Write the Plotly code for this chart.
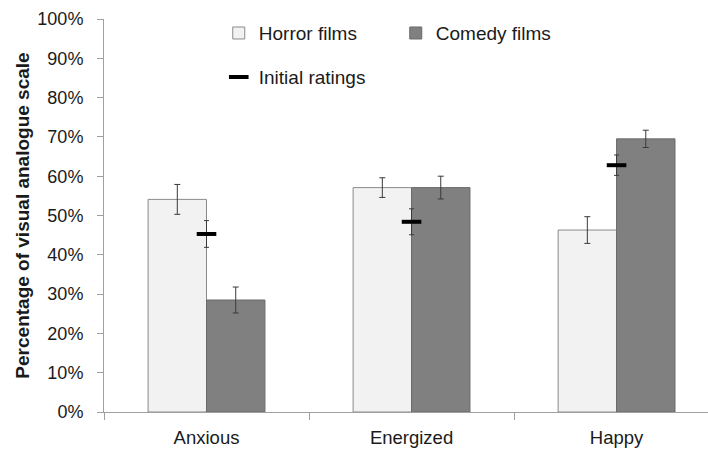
import plotly.graph_objects as go

categories = ["Anxious", "Energized", "Happy"]
horror = [54.1, 57.1, 46.3]
horror_err = [3.8, 2.5, 3.4]
comedy = [28.5, 57.1, 69.5]
comedy_err = [3.3, 2.9, 2.2]
initial = [45.3, 48.4, 62.8]
initial_err = [3.4, 3.3, 2.6]
y_ticks = [0, 10, 20, 30, 40, 50, 60, 70, 80, 90, 100]
y_tick_text = [f"{v}%" for v in y_ticks]

FONT = "Liberation Sans, Arial, sans-serif"
ERR = "#3a3a3a"

fig = go.Figure()
fig.add_trace(go.Bar(
    x=categories, y=horror, name="Horror films",
    marker=dict(color="#f2f2f2", line=dict(color="#8a8a8a", width=1)),
    error_y=dict(type="data", array=horror_err, color=ERR, thickness=1, width=3),
    legend="legend",
))
fig.add_trace(go.Bar(
    x=categories, y=comedy, name="Comedy films",
    marker=dict(color="#808080", line=dict(color="#6a6a6a", width=1)),
    error_y=dict(type="data", array=comedy_err, color=ERR, thickness=1, width=3),
    legend="legend",
))
fig.add_trace(go.Scatter(
    x=categories, y=initial, name="Initial ratings", mode="markers",
    marker=dict(symbol="line-ew", size=14, line=dict(color="black", width=4)),
    error_y=dict(type="data", array=initial_err, color=ERR, thickness=1, width=2.5),
    legend="legend2",
))

fig.update_layout(
    width=708, height=452,
    margin=dict(l=104, r=0, t=19, b=40),
    paper_bgcolor="white", plot_bgcolor="white",
    font=dict(family=FONT, size=18, color="#1a1a1a"),
    barmode="group", bargap=0.43, bargroupgap=0,
    showlegend=True,
    legend=dict(orientation="h", x=0.19, y=0.964, xanchor="left", yanchor="middle",
                entrywidth=132, entrywidthmode="pixels",
                font=dict(size=19), bgcolor="rgba(0,0,0,0)", traceorder="normal"),
    legend2=dict(orientation="h", x=0.19, y=0.852, xanchor="left", yanchor="middle",
                 font=dict(size=19), bgcolor="rgba(0,0,0,0)"),
    xaxis=dict(
        range=[-0.5, 2.446], tickson="boundaries", ticks="outside", ticklen=7,
        tickcolor="#a0a0a0", showline=True, linecolor="#a0a0a0", linewidth=1,
        showgrid=False, tickfont=dict(size=18.5), ticklabelstandoff=9,
    ),
    yaxis=dict(
        range=[0, 100], tickmode="array", tickvals=y_ticks, ticktext=y_tick_text,
        ticks="outside", ticklen=6,
        tickcolor="#a0a0a0", showline=True, linecolor="#a0a0a0", linewidth=1,
        showgrid=False, zeroline=False, tickfont=dict(size=18), ticklabelstandoff=10,
        title=dict(text="<b>Percentage of visual analogue scale</b>", font=dict(size=19), standoff=2),
    ),
)

fig.write_html("out.html")
